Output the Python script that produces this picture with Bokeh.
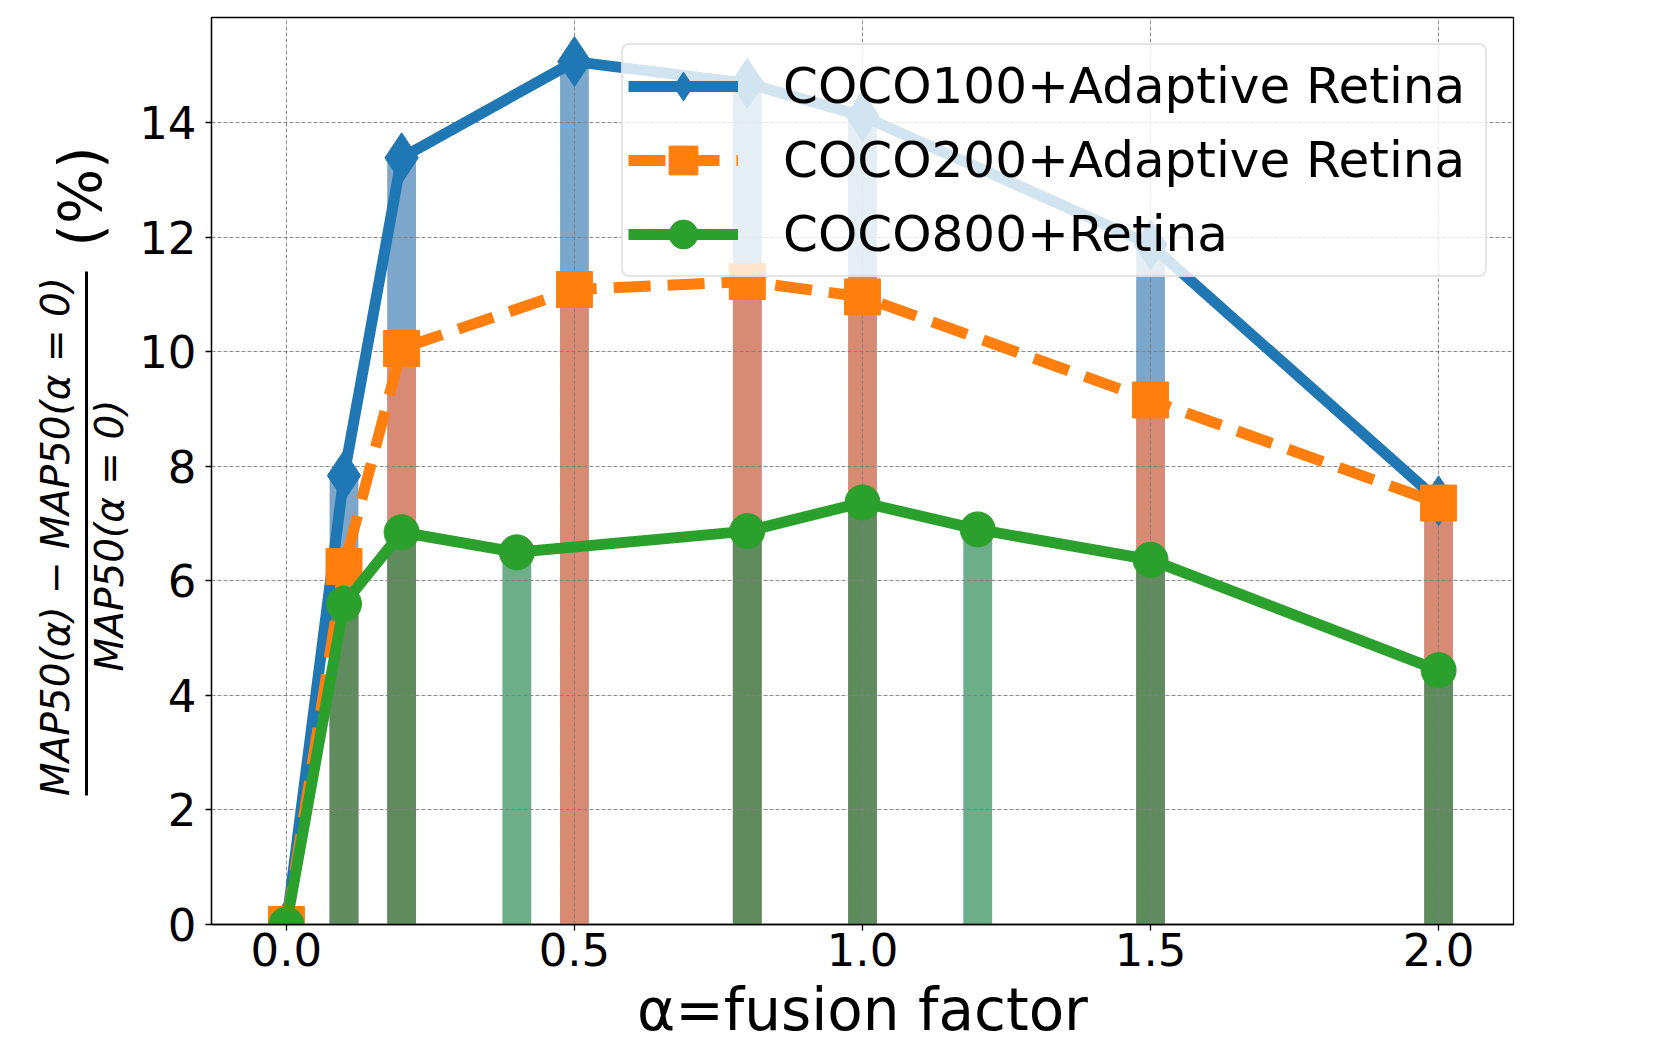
import math
from bokeh.plotting import figure
from bokeh.layouts import row
from bokeh.models import Range1d, FixedTicker, NumeralTickFormatter
from bokeh.core.properties import value
from bokeh.embed import file_html
from bokeh.resources import INLINE

# ---- data ----
alpha_a = [0.0, 0.1, 0.2, 0.5, 0.8, 1.0, 1.5, 2.0]
coco100 = [0.0, 7.84, 13.39, 15.07, 14.69, 14.12, 11.87, 7.40]
coco200 = [0.0, 6.25, 10.06, 11.09, 11.23, 10.96, 9.16, 7.36]
alpha_b = [0.0, 0.1, 0.2, 0.4, 0.8, 1.0, 1.2, 1.5, 2.0]
coco800 = [0.0, 5.60, 6.85, 6.50, 6.87, 7.37, 6.90, 6.37, 4.44]
series_names = ["COCO100+Adaptive Retina", "COCO200+Adaptive Retina", "COCO800+Retina"]
x_ticks = [0.0, 0.5, 1.0, 1.5, 2.0]
x_tick_labels = ["0.0", "0.5", "1.0", "1.5", "2.0"]
y_ticks = [0, 2, 4, 6, 8, 10, 12, 14]
x_title = "α=fusion factor"
y_num = "MAP50(α) − MAP50(α = 0)"
y_den = "MAP50(α = 0)"
y_unit = "(%)"

FONT = "DejaVu Sans"
W, H = 1680, 1050
LW = 134            # width of the strip holding the y-axis title
B_TOP, B_BOTTOM = 17, 126

# ---- main plot ----
p = figure(width=W - LW, height=H, output_backend="svg", toolbar_location=None, title=None,
           x_range=Range1d(-0.13, 2.13), y_range=Range1d(0, 15.84),
           min_border_left=77, min_border_right=167,
           min_border_top=B_TOP, min_border_bottom=B_BOTTOM)
p.background_fill_color = "white"
p.border_fill_color = "white"
p.outline_line_color = "black"
p.outline_line_width = 1.3

bar_w = 0.05
p.vbar(x=alpha_a, top=coco100, width=bar_w, fill_color="steelblue", fill_alpha=0.7,
       line_color=None, level="image")
p.vbar(x=alpha_a, top=coco200, width=bar_w, fill_color="coral", fill_alpha=0.7,
       line_color=None, level="image")
p.vbar(x=alpha_b, top=coco800, width=bar_w, fill_color="seagreen", fill_alpha=0.7,
       line_color=None, level="image")

p.line(alpha_a, coco100, line_color="#1f77b4", line_width=11, line_join="round",
       legend_label=series_names[0])
p.scatter(alpha_a, coco100, marker="diamond", size=50, fill_color="#1f77b4",
          line_color="#1f77b4", legend_label=series_names[0])
p.line(alpha_a, coco200, line_color="#ff7f0e", line_width=11, line_join="round",
       line_dash="37 17", legend_label=series_names[1])
p.scatter(alpha_a, coco200, marker="square", size=36, fill_color="#ff7f0e",
          line_color="#ff7f0e", legend_label=series_names[1])
p.line(alpha_b, coco800, line_color="#2ca02c", line_width=11, line_join="round",
       legend_label=series_names[2])
p.scatter(alpha_b, coco800, marker="circle", size=35, fill_color="#2ca02c",
          line_color="#2ca02c", legend_label=series_names[2])

p.xaxis.ticker = FixedTicker(ticks=x_ticks)
p.yaxis.ticker = FixedTicker(ticks=y_ticks)
p.xgrid.ticker = p.xaxis.ticker
p.ygrid.ticker = p.yaxis.ticker
p.xaxis.formatter = NumeralTickFormatter(format="0.0")
p.xaxis.major_label_overrides = {t: s for t, s in zip(x_ticks, x_tick_labels)}

for ax in (p.xaxis, p.yaxis):
    ax.axis_line_color = "black"
    ax.axis_line_width = 1.3
    ax.major_tick_line_color = "black"
    ax.major_tick_line_width = 1.3
    ax.major_tick_out = 6
    ax.major_tick_in = 0
    ax.minor_tick_out = 0
    ax.minor_tick_in = 0
    ax.major_label_text_font = FONT
    ax.major_label_text_font_size = "45px"
    ax.major_label_text_color = "black"

p.xaxis.major_label_standoff = 2
p.yaxis.major_label_standoff = 9

p.xaxis.axis_label = x_title
p.xaxis.axis_label_text_font = FONT
p.xaxis.axis_label_text_font_size = "58px"
p.xaxis.axis_label_text_font_style = "normal"
p.xaxis.axis_label_text_color = "black"
p.xaxis.axis_label_standoff = 7

for g in (p.xgrid, p.ygrid):
    g.grid_line_color = "gray"
    g.grid_line_dash = "4 2"
    g.grid_line_width = 1
    g.grid_line_alpha = 0.9

lg = p.legend[0]
lg.location = "top_right"
lg.margin = 26
lg.padding = 5
lg.spacing = 2
lg.glyph_width = 110
lg.glyph_height = 72
lg.label_standoff = 45
lg.label_width = 697
lg.label_text_font = FONT
lg.label_text_font_size = "50px"
lg.label_text_color = "black"
lg.border_line_color = "#cccccc"
lg.border_line_width = 2
lg.background_fill_color = "white"
lg.background_fill_alpha = 0.8
if "border_radius" in lg.properties():
    lg.border_radius = 8

# ---- y-axis title strip (fraction layout); data units = pixels from the page bottom ----
lf = figure(width=LW, height=H, output_backend="svg", toolbar_location=None, title=None,
            x_range=Range1d(0, LW), y_range=Range1d(B_BOTTOM, H - B_TOP),
            min_border_left=0, min_border_right=0,
            min_border_top=B_TOP, min_border_bottom=B_BOTTOM,
            x_axis_location=None, y_axis_location=None)
lf.outline_line_color = None
lf.background_fill_color = "white"
lf.border_fill_color = "white"
lf.grid.visible = False

lf.text(x=[55, 109], y=[514, 515], text=[y_num, y_den], angle=math.pi / 2,
        text_align="center", text_baseline="middle", text_font=value(FONT),
        text_font_size=value("39px"), text_font_style="italic", text_color="black")
lf.text(x=[80], y=[854], text=[y_unit], angle=math.pi / 2,
        text_align="center", text_baseline="middle", text_font=value(FONT),
        text_font_size=value("58px"), text_color="black")
lf.quad(left=[84.5], right=[87.5], bottom=[255], top=[779], fill_color="black",
        line_color=None)

layout = row(lf, p)
open("out.html", "w").write(file_html(layout, INLINE))
